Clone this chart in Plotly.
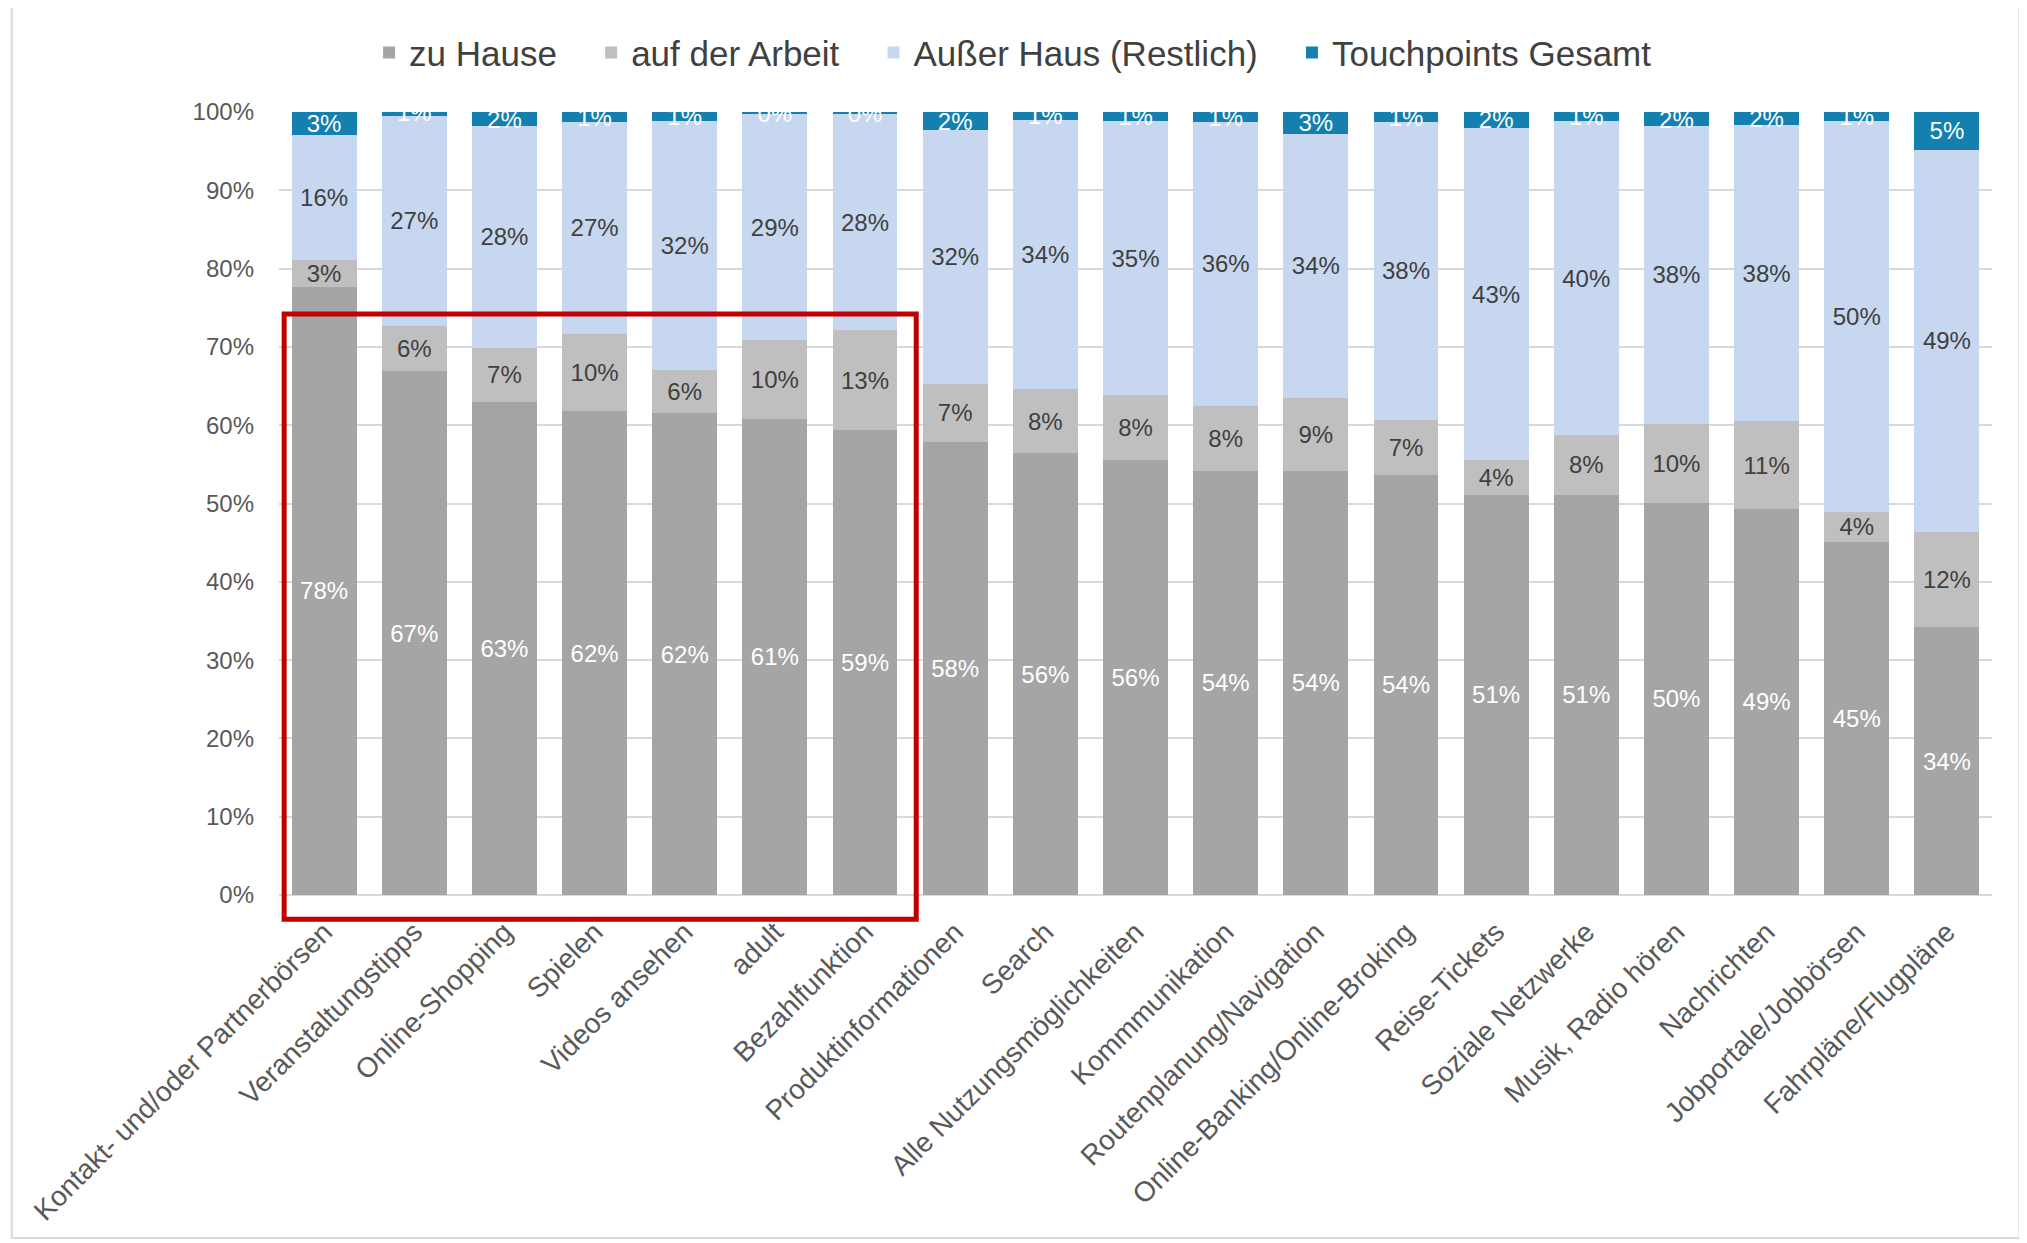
import plotly.graph_objects as pGraph

categories = [
    "Kontakt- und/oder Partnerbörsen", "Veranstaltungstipps", "Online-Shopping", "Spielen",
    "Videos ansehen", "adult", "Bezahlfunktion", "Produktinformationen", "Search",
    "Alle Nutzungsmöglichkeiten", "Kommmunikation", "Routenplanung/Navigation",
    "Online-Banking/Online-Broking", "Reise-Tickets", "Soziale Netzwerke",
    "Musik, Radio hören", "Nachrichten", "Jobportale/Jobbörsen", "Fahrpläne/Flugpläne",
]

zu_hause = [77.7, 66.9, 63.0, 61.8, 61.5, 60.8, 59.4, 57.9, 56.4, 55.5, 54.2, 54.2, 53.7, 51.1, 51.1, 50.1, 49.3, 45.1, 34.2]
arbeit = [3.4, 5.8, 6.9, 9.9, 5.6, 10.1, 12.7, 7.4, 8.2, 8.3, 8.3, 9.3, 7.0, 4.4, 7.7, 10.1, 11.2, 3.8, 12.2]
ausser = [15.9, 26.8, 28.3, 27.0, 31.7, 28.8, 27.6, 32.4, 34.4, 35.0, 36.2, 33.7, 38.0, 42.5, 40.0, 38.0, 37.8, 49.9, 48.8]
touchpoints = [3.0, 0.8, 1.8, 1.3, 1.2, 0.3, 0.3, 2.3, 1.0, 1.2, 1.3, 2.8, 1.3, 2.0, 1.2, 1.8, 1.7, 1.2, 4.8]

series = [
    ("zu Hause", zu_hause, "#A5A5A5", "white"),
    ("auf der Arbeit", arbeit, "#BFBFBF", "#404040"),
    ("Außer Haus (Restlich)", ausser, "#C6D7EF", "#404040"),
    ("Touchpoints Gesamt", touchpoints, "#1380B0", "white"),
]

FONT = "Liberation Sans Narrow, Arial Narrow, Liberation Sans, Arial"
PAD = "\u00a0" * 3  # extra room between legend entries

fig = pGraph.Figure()
for name, vals, color, tcolor in series:
    fig.add_trace(pGraph.Bar(
        name=name + PAD, x=categories, y=vals,
        marker=dict(color=color, line=dict(width=0)),
        texttemplate="%{y:.0f}%", textposition="inside", insidetextanchor="middle",
        constraintext="none", textangle=0,
        textfont=dict(color=tcolor, size=24, family=FONT),
    ))

# page body has an 8px margin, so margins are offset by that
fig.update_layout(
    barmode="stack", bargap=0.28,
    width=2027, height=1243,
    margin=dict(l=271, r=43, t=104, b=356),
    plot_bgcolor="white", paper_bgcolor="white",
    font=dict(family=FONT, color="#595959"),
    legend=dict(
        orientation="h", xref="container", yref="container",
        x=0.503, xanchor="center", y=0.964, yanchor="middle",
        font=dict(size=35, color="#404040", family=FONT),
        itemwidth=30, traceorder="normal",
    ),
    yaxis=dict(
        range=[0, 100], dtick=10, ticksuffix="%",
        showgrid=True, gridcolor="#D9D9D9", gridwidth=2,
        zeroline=True, zerolinecolor="#D9D9D9", zerolinewidth=2,
        tickfont=dict(size=24, color="#595959"), ticks="", ticklabelstandoff=24,
    ),
    xaxis=dict(
        tickangle=-45, tickfont=dict(size=28, color="#595959"),
        showline=False, ticks="", ticklabelstandoff=14,
    ),
    shapes=[
        dict(type="rect", xref="paper", yref="paper", x0=-0.156, x1=1.016, y0=-0.438, y1=1.135,
             line=dict(color="#D9D9D9", width=2), layer="below"),
        dict(type="rect", xref="paper", yref="paper", x0=0.003, x1=0.372, y0=-0.031, y1=0.742,
             line=dict(color="#C00000", width=5), layer="above"),
    ],
)

fig.write_html("out.html")
